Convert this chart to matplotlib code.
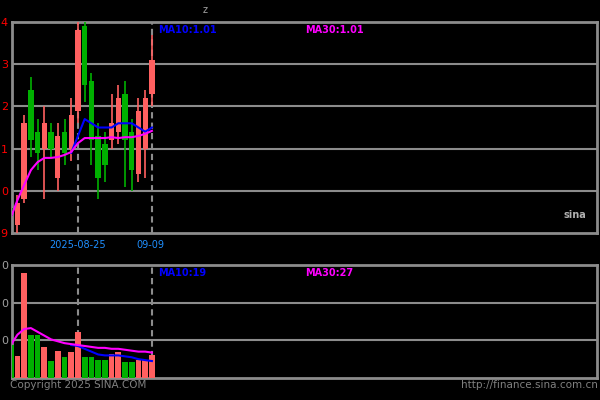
import numpy as np
import matplotlib
matplotlib.use("Agg")
import matplotlib.pyplot as plt

# daily bars, 22 sessions (idx 10 = 2025-08-25, idx 21 = 09-09)
opens  = [0.996, 0.992, 0.998, 1.024, 1.014, 1.010, 1.014, 1.003, 1.014, 1.010, 1.019,
          1.039, 1.026, 1.013, 1.011, 1.012, 1.014, 1.023, 1.014, 1.004, 1.010, 1.023]
highs  = [0.997, 0.999, 1.018, 1.027, 1.017, 1.020, 1.016, 1.016, 1.017, 1.022, 1.040,
          1.040, 1.028, 1.016, 1.014, 1.023, 1.025, 1.026, 1.017, 1.022, 1.024, 1.037]
lows   = [0.993, 0.990, 0.997, 1.008, 1.005, 0.998, 1.008, 1.000, 1.006, 1.007, 1.016,
          1.021, 1.006, 0.998, 1.002, 1.010, 1.011, 1.001, 1.000, 1.002, 1.003, 1.020]
closes = [0.994, 0.997, 1.016, 1.012, 1.009, 1.016, 1.010, 1.013, 1.009, 1.018, 1.038,
          1.025, 1.012, 1.003, 1.006, 1.016, 1.022, 1.012, 1.005, 1.019, 1.022, 1.031]
ma10 = [np.nan] * 9 + [1.009, 1.013, 1.017, 1.016, 1.015, 1.015, 1.015, 1.016, 1.016,
                       1.016, 1.015, 1.014, 1.015]
ma30 = [0.9936, 0.9978, 1.0014, 1.0049, 1.0068, 1.0078, 1.0078, 1.0080, 1.0085, 1.0092,
        1.0113, 1.0125, 1.0125, 1.0125, 1.0125, 1.0127, 1.0125, 1.0127, 1.0127, 1.0130,
        1.0135, 1.0142]
volume = [35, 23, 112, 46, 46, 33, 18, 29, 22, 28, 49, 22, 22, 19, 19, 25, 28, 17, 17, 19, 19, 24]
vol_ma10 = [np.nan] * 9 + [35, 34, 31, 28, 25, 24, 24, 24, 23, 22, 20, 19, 18]
vol_ma30 = [35, 46, 52, 53, 49, 45, 41, 39, 37, 36, 35, 34, 33, 32, 32, 31, 31, 30, 29, 28, 28, 27]

price_ticks = [0.99, 1.00, 1.01, 1.02, 1.03, 1.04]
price_labels = ["9", "0", "1", "2", "3", "4"]
vol_ticks = [40, 80, 120]
vol_labels = ["0", "0", "0"]
date_idx = [10, 21]
date_labels = ["2025-08-25", "09-09"]

RED = "#ff6060"
GREEN = "#00b000"
GRID = "#8c8c8c"

fig = plt.figure(figsize=(6, 4), dpi=100, facecolor="black")
ax = fig.add_axes([0.02, 0.4175, 0.975, 0.5275], facecolor="black")
axv = fig.add_axes([0.02, 0.055, 0.975, 0.2825], facecolor="black")

x = np.arange(len(opens))
up = np.array(closes) >= np.array(opens)
colors = [RED if u else GREEN for u in up]

# candles
ax.vlines(x, lows, highs, colors=colors, linewidth=1.2, zorder=3)
bottoms = np.minimum(opens, closes)
heights = np.abs(np.array(closes) - np.array(opens))
ax.bar(x, heights, bottom=bottoms, width=0.8, color=colors, zorder=3)
ax.plot(x, ma10, color="#0000ff", linewidth=1.5, zorder=4)
ax.plot(x, ma30, color="#ff00ff", linewidth=1.5, zorder=4)

# volume
axv.bar(x, volume, width=0.85, color=colors, zorder=3)
axv.plot(x, vol_ma10, color="#0000ff", linewidth=1.5, zorder=4)
axv.plot(x, vol_ma30, color="#ff00ff", linewidth=1.5, zorder=4)

for a in (ax, axv):
    a.set_xlim(0.19, 87.2)
    a.set_xticks([])
    for s in a.spines.values():
        s.set_color(GRID)
        s.set_linewidth(2)
    for d in date_idx:
        a.axvline(d, color=GRID, linewidth=1.5, linestyle=(0, (3, 2)), zorder=2)

ax.set_ylim(0.99, 1.04)
ax.set_yticks(price_ticks)
ax.set_yticklabels(price_labels)
ax.tick_params(axis="y", length=0, pad=3, labelcolor="red", labelsize=8)
for t in price_ticks[1:-1]:
    ax.axhline(t, color=GRID, linewidth=1.5, zorder=1)

axv.set_ylim(0, 120)
axv.set_yticks(vol_ticks)
axv.set_yticklabels(vol_labels)
axv.tick_params(axis="y", length=0, pad=3, labelcolor="#a0a0a0", labelsize=8)
for t in vol_ticks[:-1]:
    axv.axhline(t, color=GRID, linewidth=1.5, zorder=1)

def px(xp, yp, s, **kw):
    fig.text(xp / 600, 1 - yp / 400, s, **kw)

px(158, 30, "MA10:1.01", color="#0000ff", fontsize=7, va="center", fontweight="bold")
px(305, 30, "MA30:1.01", color="#ff00ff", fontsize=7, va="center", fontweight="bold")
px(158, 273, "MA10:19", color="#0000ff", fontsize=7, va="center", fontweight="bold")
px(305, 273, "MA30:27", color="#ff00ff", fontsize=7, va="center", fontweight="bold")
px(78, 245, date_labels[0], color="#1f8fff", fontsize=7, va="center", ha="center")
px(150, 245, date_labels[1], color="#1f8fff", fontsize=7, va="center", ha="center")
px(10, 385, "Copyright 2025 SINA.COM", color="#808080", fontsize=7.5, va="center")
px(598, 385, "http://finance.sina.com.cn", color="#808080", fontsize=7.5, va="center", ha="right")
px(205, 10, "z", color="#a0a0a0", fontsize=7, va="center", ha="center")
px(575, 215, "sina", color="#b0b0b0", fontsize=7, va="center", ha="center", fontweight="bold")

fig.savefig("out.png", dpi=100, facecolor="black")
